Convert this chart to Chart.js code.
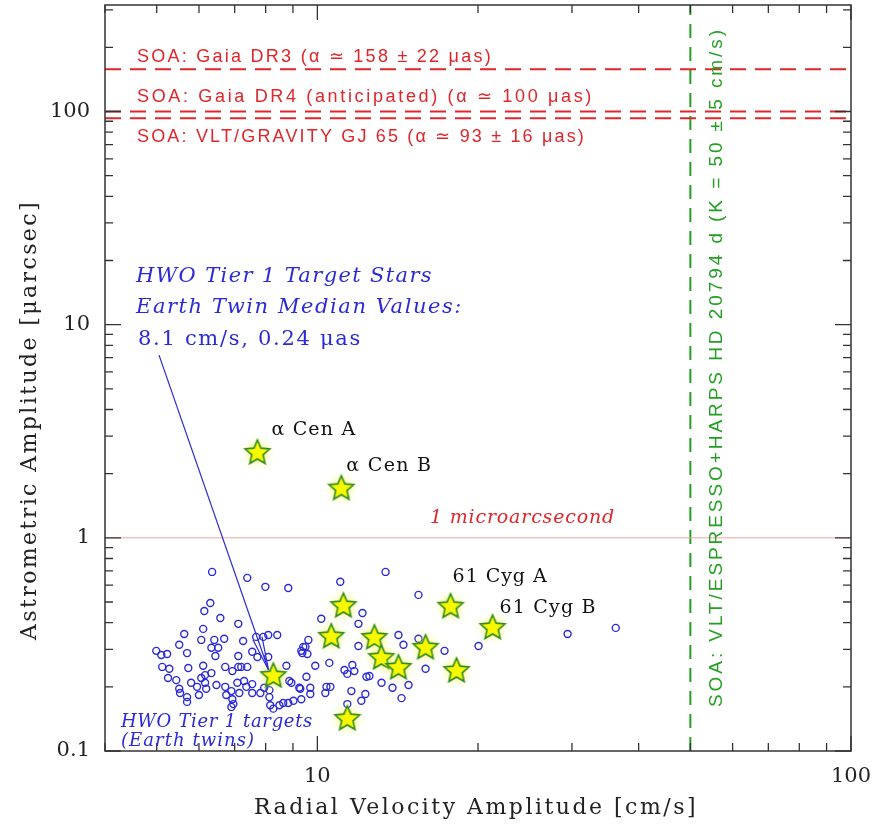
<!DOCTYPE html>
<html>
<head>
<meta charset="utf-8">
<script src="https://cdn.jsdelivr.net/npm/chart.js@4.4.0/dist/chart.umd.min.js"></script>
<style>
  html, body { margin: 0; padding: 0; background: #fff; }
</style>
</head>
<body>
<canvas id="ampChart" width="877" height="830"></canvas>
<script>
// HWO Tier 1 targets (Earth twins): RV amplitude [cm/s] and astrometric amplitude [uas]
let tierRv = [
    6.35, 7.39, 7.99, 8.82, 11.04, 13.42, 15.47, 6.30, 6.14, 6.58,
    7.11, 6.11, 5.63, 6.06, 6.41, 6.69, 7.26, 7.68, 7.92, 8.09,
    8.41, 5.51, 6.33, 6.52, 5.70, 6.44, 7.11, 7.55, 7.72, 8.09,
    4.99, 5.10, 5.23, 5.12, 5.28, 5.73, 6.11, 6.72, 6.93, 7.11,
    7.20, 7.39, 5.25, 5.44, 5.80, 6.06, 6.16, 6.33, 6.16, 6.47,
    7.08, 7.29, 7.36, 7.55, 5.51, 5.53, 5.70, 5.70, 5.95, 6.00,
    6.19, 6.72, 6.75, 6.90, 6.93, 6.96, 6.90, 7.14, 7.55, 7.82,
    7.95, 8.13, 8.13, 8.16, 8.27, 8.49, 8.63, 8.82, 9.02, 8.75,
    8.86, 8.94, 9.33, 9.41, 9.62, 9.58, 9.91, 9.54, 9.29, 9.70,
    9.70, 9.33, 10.17, 10.53, 10.40, 10.58, 10.35, 11.24, 11.38, 11.63,
    11.73, 11.38, 11.58, 11.94, 11.94, 12.15, 12.30, 12.09, 12.36, 12.52,
    13.19, 13.83, 14.19, 14.50, 14.38, 14.82, 15.47, 17.31, 20.05, 29.44,
    36.24, 15.95, 9.50, 9.37, 9.25
];
let tierAstro = [
    0.692, 0.649, 0.589, 0.582, 0.622, 0.692, 0.540, 0.495, 0.454, 0.421,
    0.395, 0.374, 0.354, 0.332, 0.332, 0.336, 0.328, 0.343, 0.343, 0.350,
    0.350, 0.315, 0.305, 0.305, 0.288, 0.279, 0.279, 0.292, 0.276, 0.276,
    0.295, 0.282, 0.285, 0.248, 0.243, 0.245, 0.251, 0.248, 0.237, 0.248,
    0.248, 0.248, 0.220, 0.215, 0.209, 0.220, 0.227, 0.232, 0.209, 0.204,
    0.209, 0.213, 0.200, 0.206, 0.196, 0.187, 0.179, 0.170, 0.200, 0.183,
    0.196, 0.200, 0.183, 0.191, 0.175, 0.166, 0.161, 0.187, 0.187, 0.187,
    0.198, 0.193, 0.179, 0.164, 0.158, 0.164, 0.168, 0.168, 0.172, 0.251,
    0.213, 0.209, 0.295, 0.308, 0.332, 0.285, 0.251, 0.223, 0.196, 0.198,
    0.185, 0.175, 0.417, 0.259, 0.200, 0.200, 0.187, 0.240, 0.230, 0.253,
    0.237, 0.166, 0.191, 0.311, 0.395, 0.444, 0.185, 0.172, 0.223, 0.225,
    0.209, 0.198, 0.350, 0.315, 0.177, 0.204, 0.336, 0.295, 0.311, 0.354,
    0.378, 0.243, 0.308, 0.288, 0.198
];

// nearby stars drawn as yellow stars, first four are labelled
let starNames = ['α Cen A', 'α Cen B', '61 Cyg A', '61 Cyg B'];
let starRv = [7.72, 11.09, 17.77, 21.30, 11.19, 10.62, 12.79, 13.18, 14.19, 8.27, 11.38, 15.95, 18.23];
let starAstro = [2.53, 1.72, 0.480, 0.382, 0.484, 0.347, 0.343, 0.276, 0.248, 0.227, 0.143, 0.308, 0.240];

// smallest astrometric / RV signals detected so far
let soaAstro = [158, 100, 93];
let soaText = [
    'SOA: Gaia DR3 (α ≃ 158 ± 22 μas)',
    'SOA: Gaia DR4 (anticipated) (α ≃ 100 μas)',
    'SOA: VLT/GRAVITY GJ 65 (α ≃ 93 ± 16 μas)'
];
let soaRv = 50;
let soaRvText = 'SOA: VLT/ESPRESSO+HARPS HD 20794 d (K = 50 ± 5 cm/s)';
let microLevel = 1;

// median of the Earth twins and where its callout starts
let medianRv = 8.1;
let medianAstro = 0.24;
let calloutFrom = [5.05, 7.2];

let xRange = [4, 100];
let yRange = [0.1, 316];
let xMajor = [10, 100];
let xMinor = [4, 5, 6, 7, 8, 9, 20, 30, 40, 50, 60, 70, 80, 90];
let yMajor = [0.1, 1, 10, 100];
let yMinor = [0.2, 0.3, 0.4, 0.5, 0.6, 0.7, 0.8, 0.9, 2, 3, 4, 5, 6, 7, 8, 9,
    20, 30, 40, 50, 60, 70, 80, 90, 200, 300];

// where the plot box sits on the canvas
let box = { left: 105, top: 5, right: 851, bottom: 751 };

const RED = '#e0262b';
const BLUE = '#2a2ad8';
const GREEN = '#23a023';

function makeStar(r) {
    let c = document.createElement('canvas');
    let s = Math.ceil(r * 2 + 12);
    c.width = s;
    c.height = s;
    let g = c.getContext('2d');
    g.translate(s / 2, s / 2 + 1);
    g.beginPath();
    for (let i = 0; i < 10; i++) {
        let rad = i % 2 ? r * 0.46 : r;
        let ang = -Math.PI / 2 + i * Math.PI / 5;
        g.lineTo(rad * Math.cos(ang), rad * Math.sin(ang));
    }
    g.closePath();
    g.shadowColor = 'rgba(250,250,60,1)';
    g.shadowBlur = 8;
    g.fillStyle = '#f8f800';
    g.fill();
    g.shadowBlur = 0;
    g.strokeStyle = '#2f8a22';
    g.lineWidth = 1.6;
    g.stroke();
    return c;
}

function pairs(xs, ys) {
    return xs.map((v, i) => ({ x: v, y: ys[i] }));
}

function hLine(yv, color, dash, width) {
    return {
        data: [{ x: xRange[0], y: yv }, { x: xRange[1], y: yv }],
        showLine: true, pointRadius: 0, borderColor: color,
        borderWidth: width, borderDash: dash
    };
}

// text with its letter spacing stretched to a given width
function spacedText(ctx, text, x, y, width, font, color) {
    ctx.font = font;
    ctx.fillStyle = color;
    ctx.letterSpacing = '0px';
    let w = ctx.measureText(text).width;
    ctx.letterSpacing = ((width - w) / text.length) + 'px';
    ctx.textAlign = 'left';
    ctx.textBaseline = 'middle';
    ctx.fillText(text, x, y);
    ctx.letterSpacing = '0px';
}

function fixBox(size, vertical) {
    return s => {
        if (vertical) s.width = size; else s.height = size;
        s.paddingLeft = s.paddingRight = s.paddingTop = s.paddingBottom = 0;
    };
}

const decorations = {
    id: 'decorations',
    afterDatasetsDraw(chart) {
        let { ctx, chartArea: a, scales: { x, y } } = chart;
        ctx.save();

        // frame with inward ticks on all four sides
        ctx.strokeStyle = '#333';
        ctx.lineWidth = 1.5;
        ctx.strokeRect(a.left, a.top, a.right - a.left, a.bottom - a.top);
        ctx.lineWidth = 1.3;
        ctx.beginPath();
        [[xMajor, 15], [xMinor, 8]].forEach(([vals, len]) => {
            vals.forEach(v => {
                let px = x.getPixelForValue(v);
                ctx.moveTo(px, a.bottom); ctx.lineTo(px, a.bottom - len);
                ctx.moveTo(px, a.top); ctx.lineTo(px, a.top + len);
            });
        });
        [[yMajor, 16], [yMinor, 8]].forEach(([vals, len]) => {
            vals.forEach(v => {
                let py = y.getPixelForValue(v);
                ctx.moveTo(a.left, py); ctx.lineTo(a.left + len, py);
                ctx.moveTo(a.right, py); ctx.lineTo(a.right - len, py);
            });
        });
        ctx.stroke();

        // callout arrow head at the median point
        let tx = x.getPixelForValue(medianRv), ty = y.getPixelForValue(medianAstro);
        let sx = x.getPixelForValue(calloutFrom[0]), sy = y.getPixelForValue(calloutFrom[1]);
        let ang = Math.atan2(sy - ty, sx - tx);
        ctx.strokeStyle = BLUE;
        ctx.lineWidth = 1.2;
        ctx.beginPath();
        [-0.14, 0.14].forEach(d => {
            ctx.moveTo(tx, ty);
            ctx.lineTo(tx + 34 * Math.cos(ang + d), ty + 34 * Math.sin(ang + d));
        });
        ctx.stroke();

        // SOA labels
        let soaFont = '18px "Liberation Sans", sans-serif';
        spacedText(ctx, soaText[0], a.left + 32, 57, 356, soaFont, RED);
        spacedText(ctx, soaText[1], a.left + 32, 97, 457, soaFont, RED);
        spacedText(ctx, soaText[2], a.left + 32, 137, 449, soaFont, RED);

        ctx.save();
        ctx.translate(x.getPixelForValue(soaRv) + 26, 707);
        ctx.rotate(-Math.PI / 2);
        spacedText(ctx, soaRvText, 0, 0, 680, '19px "Liberation Sans", sans-serif', GREEN);
        ctx.restore();

        spacedText(ctx, '1 microarcsecond', 430, y.getPixelForValue(microLevel) - 20, 185,
            'italic 19px "DejaVu Serif", serif', RED);

        // median annotation
        let blueIt = 'italic 21px "DejaVu Serif", serif';
        spacedText(ctx, 'HWO Tier 1 Target Stars', 136, 277, 297, blueIt, BLUE);
        spacedText(ctx, 'Earth Twin Median Values:', 136, 308, 327, blueIt, BLUE);
        spacedText(ctx, '8.1 cm/s, 0.24 μas', 138, 340, 224, '21px "DejaVu Serif", serif', BLUE);
        spacedText(ctx, 'HWO Tier 1 targets', 121, 722, 192, 'italic 18px "DejaVu Serif", serif', BLUE);
        spacedText(ctx, '(Earth twins)', 121, 741, 134, 'italic 18px "DejaVu Serif", serif', BLUE);

        // star names, offset from their markers
        let offs = [[14, -22, 85], [5, -22, 86], [2, -29, 95], [7, -19, 97]];
        starNames.forEach((n, i) => {
            let px = x.getPixelForValue(starRv[i]), py = y.getPixelForValue(starAstro[i]);
            spacedText(ctx, n, px + offs[i][0], py + offs[i][1], offs[i][2],
                '19px "DejaVu Serif", serif', '#111');
        });

        // axis titles
        spacedText(ctx, 'Radial Velocity Amplitude [cm/s]', 254, 808, 444,
            '22px "DejaVu Serif", serif', '#222');
        ctx.save();
        ctx.translate(30, 640);
        ctx.rotate(-Math.PI / 2);
        spacedText(ctx, 'Astrometric Amplitude [μarcsec]', 0, 0, 440,
            '22px "DejaVu Serif", serif', '#222');
        ctx.restore();

        ctx.restore();
    }
};

let ctx = document.getElementById('ampChart').getContext('2d');
new Chart(ctx, {
    type: 'scatter',
    data: {
        datasets: [
            {
                data: pairs(starRv, starAstro),
                pointStyle: makeStar(13),
                pointRadius: 13
            },
            {
                data: pairs(tierRv, tierAstro),
                pointStyle: 'circle',
                pointRadius: 3.5,
                pointBorderWidth: 1.4,
                pointBackgroundColor: 'rgba(0,0,0,0)',
                pointBorderColor: BLUE
            },
            {
                data: [{ x: calloutFrom[0], y: calloutFrom[1] }, { x: medianRv, y: medianAstro }],
                showLine: true, pointRadius: 0, borderColor: BLUE, borderWidth: 1.2
            },
            hLine(soaAstro[0], RED, [16, 9], 2),
            hLine(soaAstro[1], RED, [16, 9], 2),
            hLine(soaAstro[2], RED, [16, 9], 2),
            hLine(microLevel, '#f3a3a3', [], 1),
            {
                data: [{ x: soaRv, y: yRange[0] }, { x: soaRv, y: yRange[1] }],
                showLine: true, pointRadius: 0, borderColor: GREEN,
                borderWidth: 2, borderDash: [14, 9]
            }
        ]
    },
    options: {
        responsive: false,
        animation: false,
        devicePixelRatio: 1,
        events: [],
        layout: {
            autoPadding: false,
            padding: { top: box.top, right: 877 - box.right, left: 0, bottom: 0 }
        },
        plugins: { legend: { display: false }, tooltip: { enabled: false } },
        scales: {
            x: {
                type: 'logarithmic',
                min: xRange[0],
                max: xRange[1],
                grid: { display: false, drawTicks: false },
                border: { display: false },
                afterBuildTicks: s => { s.ticks = xMajor.map(v => ({ value: v })); },
                afterFit: fixBox(830 - box.bottom, false),
                ticks: {
                    autoSkip: false, maxRotation: 0, padding: 13, color: '#222',
                    font: { family: 'DejaVu Serif', size: 21 },
                    callback: v => String(v)
                }
            },
            y: {
                type: 'logarithmic',
                min: yRange[0],
                max: yRange[1],
                grid: { display: false, drawTicks: false },
                border: { display: false },
                afterBuildTicks: s => { s.ticks = yMajor.map(v => ({ value: v })); },
                afterFit: fixBox(box.left, true),
                ticks: {
                    autoSkip: false, padding: 15, color: '#222',
                    font: { family: 'DejaVu Serif', size: 21 },
                    callback: v => String(v)
                }
            }
        }
    },
    plugins: [decorations]
});
</script>
</body>
</html>
